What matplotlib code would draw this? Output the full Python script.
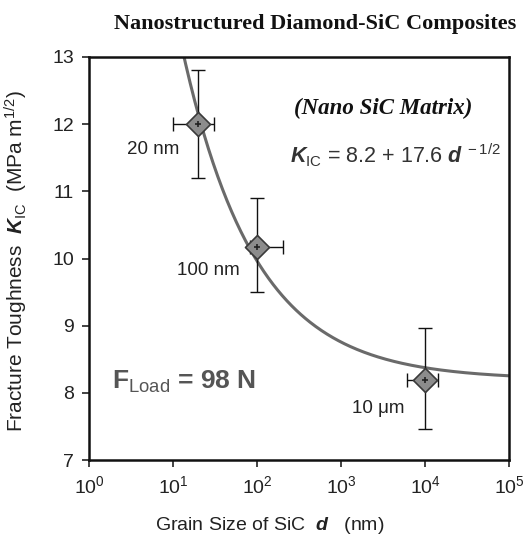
import numpy as np
import matplotlib
matplotlib.use('Agg')
import matplotlib.pyplot as plt

plt.rcParams['font.family'] = 'Liberation Sans'
plt.rcParams['mathtext.fontset'] = 'custom'
plt.rcParams['mathtext.rm'] = 'Liberation Sans'
plt.rcParams['mathtext.it'] = 'Liberation Sans:italic:bold'
plt.rcParams['mathtext.bf'] = 'Liberation Sans:bold'

# measured data (grain size in nm)
grain_nm = [20, 100, 10000]
k_ic = [12.0, 10.17, 8.19]
x_lo = [10, 83, 6100]
x_hi = [31, 205, 14300]
y_lo = [11.2, 9.5, 7.46]
y_hi = [12.8, 10.9, 8.96]
point_labels = ['20 nm', '100 nm', '10 \u03bcm']

# fit K_IC = 8.2 + 17.6 d^-1/2
fit_a, fit_b = 8.2, 17.6
d_fit = np.logspace(0.9, 5, 300)
k_fit = fit_a + fit_b * d_fit ** -0.5

fig = plt.figure(figsize=(5.31, 5.37), dpi=100)
ax = fig.add_axes([0.168, 0.143, 0.791, 0.751])

ax.plot(d_fit, k_fit, color='#6a6a6a', lw=2.2, zorder=2)

gx = np.array(grain_nm, dtype=float)
gy = np.array(k_ic)
xerr = [gx - np.array(x_lo), np.array(x_hi) - gx]
yerr = [gy - np.array(y_lo), np.array(y_hi) - gy]
ax.errorbar(gx, gy, xerr=xerr, yerr=yerr, fmt='none', ecolor='#111111',
            elinewidth=1.0, capsize=5, capthick=1.0, zorder=3)
ax.scatter(gx, gy, marker='D', s=150, facecolor='#8c8c8c', edgecolor='#3a3a3a',
           linewidth=1.2, zorder=4)
ax.scatter(gx, gy, marker='+', s=25, color='#222222', linewidth=1.2, zorder=5)

offsets = [(-19, -25), (-17, -23), (-21, -28)]
for x, y, lab, off in zip(gx, gy, point_labels, offsets):
    ax.annotate(lab, (x, y), textcoords='offset pixels', xytext=off,
                ha='right', va='center', fontsize=13.5, color='#222222')

ax.set_xscale('log')
ax.set_xlim(1, 1e5)
ax.set_ylim(7, 13)
ax.set_xticks([1, 10, 100, 1e3, 1e4, 1e5])
ax.set_xticklabels([r'$10^{%d}$' % i for i in range(6)])
ax.xaxis.set_minor_locator(matplotlib.ticker.NullLocator())
ax.set_yticks(range(7, 14))
ax.tick_params(direction='out', length=5, width=1.2, labelsize=14,
               colors='#222222', pad=6)
for s in ax.spines.values():
    s.set_linewidth(1.8)
    s.set_color('#111111')

ax.set_xlabel(r'Grain Size of SiC  $d$   (nm)', fontsize=14, color='#222222')
ax.xaxis.set_label_coords(0.43, -0.135)
ax.set_ylabel(r'Fracture Toughness  $K_{\mathrm{IC}}$  (MPa m$^{1/2}$)',
              fontsize=15, color='#222222')
ax.yaxis.set_label_coords(-0.14, 0.495)

ax.text(0.70, 0.873, '(Nano SiC Matrix)', transform=ax.transAxes,
        ha='center', va='center', fontsize=16.5, fontweight='bold',
        style='italic', family='Liberation Serif', color='#111111')
ax.text(0.478, 0.757, r'$K_{\mathrm{IC}}$ = 8.2 + 17.6 $d^{\,-1/2}$',
        transform=ax.transAxes, ha='left', va='center', fontsize=15.5,
        color='#333333')
ax.text(0.055, 0.194, r'F$_{\mathrm{Load}}$ = 98 N', transform=ax.transAxes,
        ha='left', va='center', fontsize=19, fontweight='bold',
        color='#555555')

fig.text(0.593, 0.955, 'Nanostructured Diamond-SiC Composites',
         ha='center', va='center', fontsize=16, fontweight='bold',
         family='Liberation Serif', color='#111111')

fig.savefig('out.png', dpi=100)
